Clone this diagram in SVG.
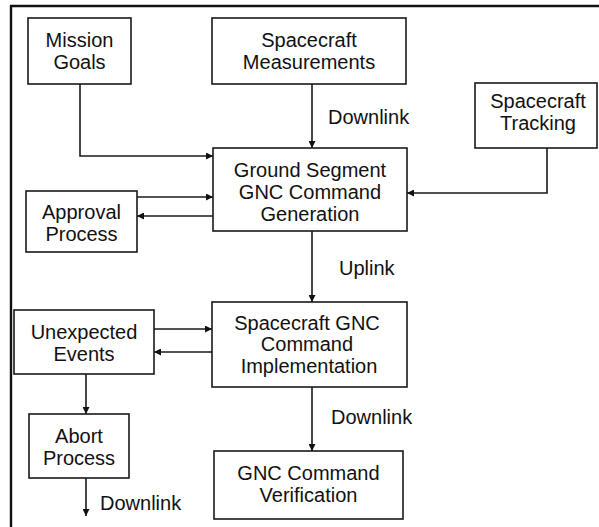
<svg xmlns="http://www.w3.org/2000/svg" width="599" height="527" viewBox="0 0 599 527">
  <style>
    .box { fill: #ffffff; stroke: #1a1a1a; stroke-width: 1.6; }
    .lbl { font-family: "Liberation Sans", Arial, sans-serif; font-size: 20px; fill: #111111; text-anchor: middle; }
    .note { font-family: "Liberation Sans", Arial, sans-serif; font-size: 20px; fill: #111111; }
    .wire { fill: none; stroke: #1a1a1a; stroke-width: 1.6; }
  </style>
  <defs>
    <marker id="arrow" viewBox="0 0 7 7" refX="7" refY="3.5" markerWidth="7" markerHeight="7" markerUnits="userSpaceOnUse" orient="auto">
      <path d="M0,0 L7,3.5 L0,7 Z" fill="#111111"/>
    </marker>
  </defs>

  <rect x="0" y="0" width="599" height="527" fill="#ffffff"/>

  <!-- frame: top and left rules -->
  <g id="frame">
    <line x1="10" y1="6" x2="599" y2="6" stroke="#111111" stroke-width="2.4"/>
    <line x1="11" y1="5" x2="11" y2="527" stroke="#111111" stroke-width="2.4"/>
  </g>

  <!-- connectors -->
  <g id="connectors">
    <path class="wire" d="M80,84 V156 H213" marker-end="url(#arrow)"/>
    <path class="wire" d="M312,84 V148" marker-end="url(#arrow)"/>
    <path class="wire" d="M547,148 V193 H407" marker-end="url(#arrow)"/>
    <path class="wire" d="M137,197 H213" marker-end="url(#arrow)"/>
    <path class="wire" d="M213,216 H137" marker-end="url(#arrow)"/>
    <path class="wire" d="M312,231 V302" marker-end="url(#arrow)"/>
    <path class="wire" d="M154,329 H212" marker-end="url(#arrow)"/>
    <path class="wire" d="M212,352 H154" marker-end="url(#arrow)"/>
    <path class="wire" d="M86,374 V414" marker-end="url(#arrow)"/>
    <path class="wire" d="M312,387 V451" marker-end="url(#arrow)"/>
    <path class="wire" d="M86,478 V516" marker-end="url(#arrow)"/>
    <text class="note" x="328" y="124">Downlink</text>
    <text class="note" x="339" y="275">Uplink</text>
    <text class="note" x="331" y="424">Downlink</text>
    <text class="note" x="100" y="510">Downlink</text>
  </g>

  <g id="mission-goals">
    <rect class="box" x="28" y="18" width="103" height="66"/>
    <text class="lbl" x="79.5" y="47">Mission</text>
    <text class="lbl" x="79.5" y="69">Goals</text>
  </g>

  <g id="spacecraft-measurements">
    <rect class="box" x="212" y="18" width="194" height="66"/>
    <text class="lbl" x="309" y="47">Spacecraft</text>
    <text class="lbl" x="309" y="69">Measurements</text>
  </g>

  <g id="spacecraft-tracking">
    <rect class="box" x="475" y="83" width="122" height="65"/>
    <text class="lbl" x="538" y="108">Spacecraft</text>
    <text class="lbl" x="538" y="130">Tracking</text>
  </g>

  <g id="ground-segment">
    <rect class="box" x="213" y="148" width="194" height="83"/>
    <text class="lbl" x="310" y="177">Ground Segment</text>
    <text class="lbl" x="310" y="199">GNC Command</text>
    <text class="lbl" x="310" y="221">Generation</text>
  </g>

  <g id="approval-process">
    <rect class="box" x="26" y="191" width="111" height="61"/>
    <text class="lbl" x="81.5" y="219">Approval</text>
    <text class="lbl" x="81.5" y="241">Process</text>
  </g>

  <g id="unexpected-events">
    <rect class="box" x="14" y="310" width="140" height="64"/>
    <text class="lbl" x="84" y="339">Unexpected</text>
    <text class="lbl" x="84" y="361">Events</text>
  </g>

  <g id="spacecraft-gnc">
    <rect class="box" x="212" y="302" width="195" height="85"/>
    <text class="lbl" x="307" y="330">Spacecraft GNC</text>
    <text class="lbl" x="307" y="351">Command</text>
    <text class="lbl" x="309" y="373">Implementation</text>
  </g>

  <g id="abort-process">
    <rect class="box" x="29" y="414" width="100" height="64"/>
    <text class="lbl" x="79" y="443">Abort</text>
    <text class="lbl" x="79" y="465">Process</text>
  </g>

  <g id="gnc-verification">
    <rect class="box" x="214" y="451" width="189" height="68"/>
    <text class="lbl" x="308.5" y="480">GNC Command</text>
    <text class="lbl" x="308.5" y="502">Verification</text>
  </g>
</svg>
